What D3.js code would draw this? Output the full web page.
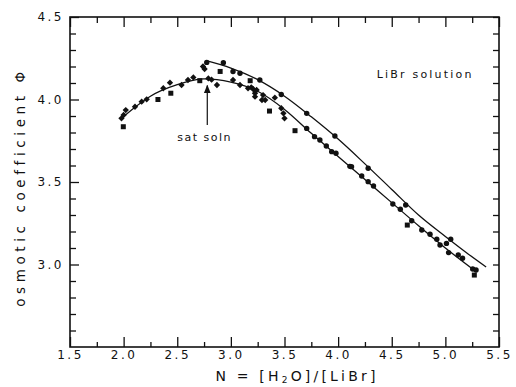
<!DOCTYPE html>
<html lang="en">
<head>
  <meta charset="UTF-8">
  <title>LiBr osmotic coefficient</title>
  <style>
    body { margin: 0; background: #fff; }
    svg text { font-family: "DejaVu Sans", sans-serif; fill: #111; }
  </style>
</head>
<body>
  <svg id="chart" width="516" height="387"></svg>
  <script src="https://d3js.org/d3.v7.min.js"></script>
  <script>
    // x ticks / y ticks
    var xMajor = [1.5, 2.0, 2.5, 3.0, 3.5, 4.0, 4.5, 5.0, 5.5];
    var xMinor = [1.75, 2.25, 2.75, 3.25, 3.75, 4.25, 4.75, 5.25];
    var yMajor = [3.0, 3.5, 4.0, 4.5];
    var yMinor = [2.6, 2.7, 2.8, 2.9, 3.1, 3.2, 3.3, 3.4, 3.6, 3.7, 3.8, 3.9, 4.1, 4.2, 4.3, 4.4];

    // fitted curves
    var upperCurve = [[2.77, 4.235], [3.0, 4.19], [3.25, 4.12], [3.5, 4.02], [3.75, 3.895], [4.0, 3.76],
      [4.25, 3.61], [4.5, 3.455], [4.75, 3.30], [5.0, 3.17], [5.2, 3.07], [5.38, 2.985]];
    var lowerCurve = [[1.97, 3.88], [2.1, 3.95], [2.25, 4.02], [2.5, 4.09], [2.75, 4.125], [3.0, 4.105],
      [3.25, 4.05], [3.5, 3.94], [3.75, 3.795], [4.0, 3.655], [4.25, 3.515], [4.5, 3.375],
      [4.75, 3.235], [5.0, 3.1], [5.29, 2.955]];

    // measured points
    var circles = [[2.775, 4.225], [2.93, 4.223], [3.02, 4.17], [3.085, 4.159], [3.27, 4.118], [3.47, 4.03],
      [3.707, 3.916], [3.97, 3.779], [4.28, 3.583], [4.63, 3.361], [5.05, 3.153],
      [3.707, 3.825], [3.78, 3.775], [3.83, 3.755], [3.89, 3.718], [3.94, 3.684], [3.98, 3.674],
      [4.11, 3.595], [4.125, 3.593], [4.22, 3.536], [4.28, 3.502], [4.33, 3.476], [4.51, 3.367],
      [4.58, 3.335], [4.686, 3.265], [4.78, 3.209], [4.857, 3.183], [4.92, 3.153], [4.95, 3.118],
      [5.01, 3.128], [5.03, 3.072], [5.12, 3.058], [5.16, 3.038], [5.255, 2.973], [5.286, 2.967]];
    var squares = [[1.997, 3.835], [2.32, 4.0], [2.44, 4.038], [2.71, 4.114], [2.90, 4.17], [3.18, 4.114],
      [3.36, 3.93], [3.598, 3.811], [4.645, 3.239], [5.27, 2.936]];
    var diamonds = [[1.98, 3.886], [2.0, 3.906], [2.02, 3.936], [2.106, 3.956], [2.168, 3.987], [2.215, 4.001],
      [2.37, 4.068], [2.432, 4.102], [2.54, 4.088], [2.60, 4.118], [2.65, 4.134], [2.79, 4.128],
      [2.74, 4.20], [2.755, 4.185], [2.82, 4.12], [2.87, 4.088], [3.02, 4.118], [3.085, 4.088],
      [3.16, 4.068], [3.19, 4.074], [3.21, 4.062], [3.24, 4.058], [3.225, 4.038], [3.225, 4.017],
      [3.30, 4.027], [3.29, 3.997], [3.32, 3.997], [3.41, 4.011], [3.47, 3.947], [3.49, 3.916], [3.50, 3.886]];

    // annotations (data units)
    var arrowFrom = [2.78, 3.845], arrowTo = [2.78, 4.085];
    var satLabel = [2.755, 3.75];
    var librLabel = [4.36, 4.13];

    var svg = d3.select("#chart");
    var plotL = 70, plotR = 499, plotT = 17, plotB = 347;

    var x = d3.scaleLinear().domain([1.5, 5.5]).range([plotL, plotR]);
    var y = d3.scaleLinear().domain([2.5, 4.5]).range([plotB, plotT]);

    // axes: ticks point inward
    function styleAxis(g) {
      g.select(".domain").remove();
      g.selectAll(".tick line").attr("stroke", "#111").attr("stroke-width", 1.3);
      g.selectAll(".tick text").attr("font-size", 12).attr("letter-spacing", 2.5).attr("fill", "#111");
    }

    svg.append("g").attr("transform", "translate(0," + plotB + ")")
      .call(d3.axisBottom(x).tickValues(xMajor).tickSize(-10).tickPadding(3).tickFormat(d3.format(".1f")))
      .call(styleAxis);
    svg.append("g").attr("transform", "translate(0," + plotB + ")")
      .call(d3.axisBottom(x).tickValues(xMinor).tickSize(-5).tickFormat(""))
      .call(styleAxis);
    svg.append("g").attr("transform", "translate(0," + plotT + ")")
      .call(d3.axisTop(x).tickValues(xMajor).tickSize(-10).tickFormat(""))
      .call(styleAxis);
    svg.append("g").attr("transform", "translate(0," + plotT + ")")
      .call(d3.axisTop(x).tickValues(xMinor).tickSize(-6).tickFormat(""))
      .call(styleAxis);

    svg.append("g").attr("transform", "translate(" + plotL + ",0)")
      .call(d3.axisLeft(y).tickValues(yMajor).tickSize(-9).tickPadding(6).tickFormat(d3.format(".1f")))
      .call(styleAxis);
    svg.append("g").attr("transform", "translate(" + plotL + ",0)")
      .call(d3.axisLeft(y).tickValues(yMinor).tickSize(-6).tickFormat(""))
      .call(styleAxis);
    svg.append("g").attr("transform", "translate(" + plotR + ",0)")
      .call(d3.axisRight(y).tickValues(yMajor.concat(yMinor)).tickSize(-6).tickFormat(""))
      .call(styleAxis);

    svg.append("rect")
      .attr("x", plotL).attr("y", plotT)
      .attr("width", plotR - plotL).attr("height", plotB - plotT)
      .attr("fill", "none").attr("stroke", "#111").attr("stroke-width", 1.6);

    // curves
    var line = d3.line()
      .x(d => x(d[0]))
      .y(d => y(d[1]))
      .curve(d3.curveMonotoneX);

    svg.selectAll("path.curve")
      .data([upperCurve, lowerCurve])
      .enter()
      .append("path")
      .attr("class", "curve")
      .attr("d", line)
      .attr("fill", "none")
      .attr("stroke", "#111")
      .attr("stroke-width", 1.3);

    // markers
    svg.append("g").selectAll("circle")
      .data(circles).enter().append("circle")
      .attr("cx", d => x(d[0])).attr("cy", d => y(d[1]))
      .attr("r", 2.7).attr("fill", "#111");

    svg.append("g").selectAll("rect")
      .data(squares).enter().append("rect")
      .attr("x", d => x(d[0]) - 2.5).attr("y", d => y(d[1]) - 2.5)
      .attr("width", 5).attr("height", 5).attr("fill", "#111");

    // diamond drawn as a rotated square
    var diamond = d3.symbol().type(d3.symbolSquare).size(20);
    svg.append("g").selectAll("path")
      .data(diamonds).enter().append("path")
      .attr("transform", d => "translate(" + x(d[0]) + "," + y(d[1]) + ") rotate(45)")
      .attr("d", diamond).attr("fill", "#111");

    // sat soln arrow
    svg.append("defs").append("marker")
      .attr("id", "head").attr("viewBox", "0 0 10 10")
      .attr("refX", 9).attr("refY", 5)
      .attr("markerWidth", 7).attr("markerHeight", 7)
      .attr("orient", "auto")
      .append("path").attr("d", "M0,1L10,5L0,9Z").attr("fill", "#111");

    svg.append("line")
      .attr("x1", x(arrowFrom[0])).attr("y1", y(arrowFrom[1]))
      .attr("x2", x(arrowTo[0])).attr("y2", y(arrowTo[1]))
      .attr("stroke", "#111").attr("stroke-width", 1.2)
      .attr("marker-end", "url(#head)");

    svg.append("text")
      .attr("x", x(satLabel[0])).attr("y", y(satLabel[1]))
      .attr("text-anchor", "middle")
      .attr("font-size", 11).attr("letter-spacing", 1.5)
      .text("sat soln");

    svg.append("text")
      .attr("x", x(librLabel[0])).attr("y", y(librLabel[1]))
      .attr("font-size", 11).attr("letter-spacing", 2.2)
      .text("LiBr solution");

    // axis titles
    var xt = svg.append("text")
      .attr("x", 297).attr("y", 381)
      .attr("text-anchor", "middle")
      .attr("font-size", 14).attr("letter-spacing", 3.2);
    xt.append("tspan").text("N = [H");
    xt.append("tspan").attr("font-size", 9).attr("dy", 2).text("2");
    xt.append("tspan").attr("dy", -2).text("O]/[LiBr]");

    svg.append("text")
      .attr("transform", "translate(25,187) rotate(-90)")
      .attr("text-anchor", "middle")
      .attr("font-size", 13.5).attr("letter-spacing", 4.6)
      .text("osmotic coefficient \u03A6");
  </script>
</body>
</html>
